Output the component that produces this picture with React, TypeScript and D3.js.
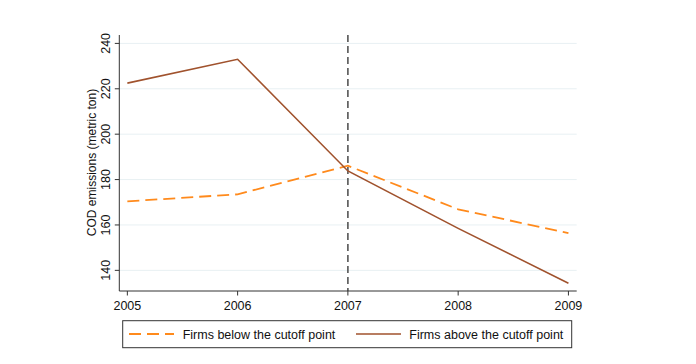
import React from "react";
import * as d3 from "d3";

const years = [2005, 2006, 2007, 2008, 2009];
const below = [170.4, 173.5, 186.1, 166.9, 156.4];
const above = [222.5, 233.0, 183.8, 158.5, 134.3];
const yTicks = [140, 160, 180, 200, 220, 240];
const cutoffYear = 2007;
const legendLabels = ["Firms below the cutoff point", "Firms above the cutoff point"];
const yTitle = "COD emissions (metric ton)";

const ORANGE = "#ff8a1c";
const BROWN = "#a0522d";
const FONT = "'Liberation Sans', Arial, Helvetica, sans-serif";

export default function App() {
  const W = 696, H = 364;
  const x = d3.scaleLinear().domain([2004.927, 2009.075]).range([119.3, 576.7]);
  const y = d3.scaleLinear().domain([130.9, 243.7]).range([291, 35]);
  const [x0, x1] = x.range();
  const [yb, yt] = y.range();

  const line = d3.line<number>().x((_, i) => x(years[i])).y((d) => y(d));

  return (
    <svg width={W} height={H} style={{ position: "absolute", left: 0, top: 0, background: "#fff" }}>
      <rect x={0} y={0} width={W} height={H} fill="#fff" />
      {yTicks.map((t) => (
        <line key={"g" + t} x1={x0} x2={x1} y1={y(t)} y2={y(t)} stroke="#e8f0f3" strokeWidth={1} />
      ))}
      <line x1={x(cutoffYear)} x2={x(cutoffYear)} y1={yt} y2={yb} stroke="#555" strokeWidth={1.6} strokeDasharray="7,4" />
      <path d={line(below) || ""} fill="none" stroke={ORANGE} strokeWidth={1.8} strokeDasharray="12,6" />
      <path d={line(above) || ""} fill="none" stroke={BROWN} strokeWidth={1.6} />
      <line x1={x0} x2={x0} y1={yt} y2={yb} stroke="#333" strokeWidth={1} />
      <line x1={x0} x2={x1} y1={yb} y2={yb} stroke="#333" strokeWidth={1} />
      {yTicks.map((t) => (
        <g key={"y" + t}>
          <line x1={x0 - 4.5} x2={x0} y1={y(t)} y2={y(t)} stroke="#333" />
          <text
            transform={`translate(109.5,${y(t)}) rotate(-90)`}
            textAnchor="middle"
            fontFamily={FONT}
            fontSize={12.5}
            fill="#111"
          >
            {t}
          </text>
        </g>
      ))}
      {years.map((yr) => (
        <g key={"x" + yr}>
          <line x1={x(yr)} x2={x(yr)} y1={yb} y2={yb + 4.5} stroke="#333" />
          <text x={x(yr)} y={309.5} textAnchor="middle" fontFamily={FONT} fontSize={12.5} fill="#111">
            {yr}
          </text>
        </g>
      ))}
      <text
        transform={`translate(96,162.5) rotate(-90)`}
        textAnchor="middle"
        fontFamily={FONT}
        fontSize={12}
        fill="#111"
      >
        {yTitle}
      </text>
      <rect x={122.7} y={320.7} width={449} height={27} fill="#fff" stroke="#333" strokeWidth={1} />
      <line x1={129} x2={174} y1={334} y2={334} stroke={ORANGE} strokeWidth={1.8} strokeDasharray="12,6" />
      <text x={182.7} y={338.5} fontFamily={FONT} fontSize={12.5} fill="#111">{legendLabels[0]}</text>
      <line x1={356} x2={401} y1={334} y2={334} stroke={BROWN} strokeWidth={1.6} />
      <text x={409.3} y={338.5} fontFamily={FONT} fontSize={12.5} fill="#111">{legendLabels[1]}</text>
    </svg>
  );
}
